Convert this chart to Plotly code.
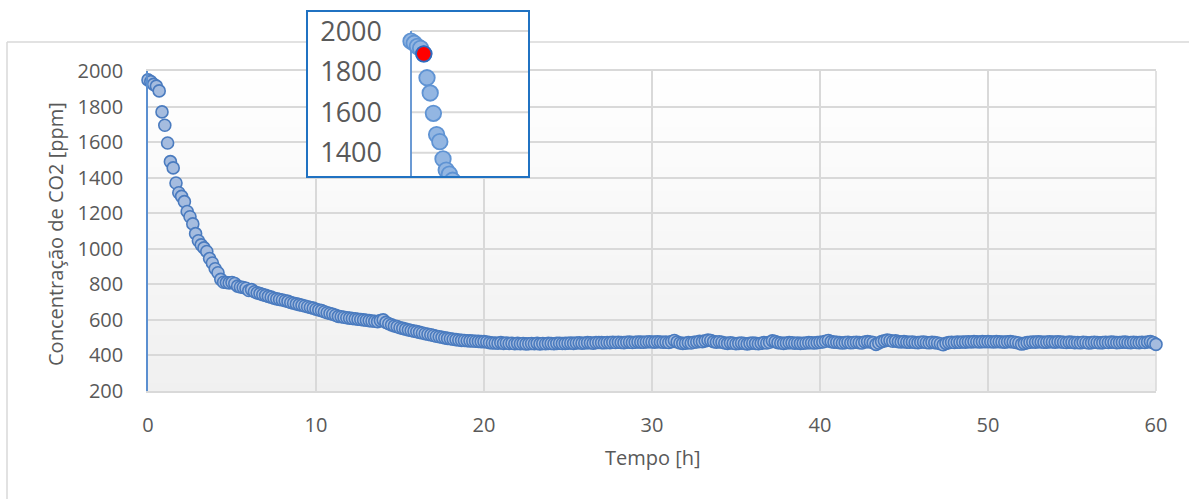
import plotly.graph_objects as go

# ---------------- data ----------------
step_h = 1 / 6  # one sample every 10 minutes
co2 = [
    1950, 1940, 1925, 1915, 1888, 1770,
    1695, 1595, 1490, 1455, 1370, 1315,
    1295, 1265, 1210, 1180, 1140, 1085,
    1045, 1022, 1005, 985, 945, 920,
    888, 865, 828, 812, 810, 808,
    810, 805, 790, 785, 782, 778,
    765, 770, 758, 752, 748, 742,
    738, 732, 728, 722, 718, 715,
    712, 708, 704, 698, 694, 690,
    686, 682, 678, 674, 670, 666,
    660, 656, 652, 646, 640, 636,
    632, 626, 620, 618, 615, 612,
    610, 608, 606, 604, 602, 600,
    598, 596, 594, 592, 590, 596,
    600, 586, 578, 572, 566, 562,
    556, 552, 548, 544, 540, 537,
    534, 530, 526, 522, 519, 516,
    512, 508, 505, 502, 499, 496,
    494, 491, 489, 487, 485, 484,
    483, 482, 481, 480, 479, 478,
    478, 476, 472, 470, 470, 469,
    472, 468, 470, 467, 469, 466,
    468, 466, 467, 465, 466, 467,
    466, 468, 465, 467, 466, 468,
    467, 466, 468, 469, 467, 468,
    469, 470, 468, 470, 471, 469,
    470, 472, 471, 469, 472, 473,
    472, 471, 473, 472, 474, 473,
    474, 473, 472, 474, 475, 473,
    474, 476, 475, 474, 476, 477,
    476, 475, 477, 476, 474, 475,
    473, 478, 484, 476, 470, 468,
    469, 472, 470, 474, 476, 479,
    478, 482, 486, 484, 478, 475,
    477, 474, 470, 468, 471, 469,
    466, 468, 470, 467, 465, 468,
    470, 468, 466, 469, 472, 470,
    474, 482, 478, 472, 470, 468,
    470, 472, 471, 469, 470, 468,
    469, 470, 472, 471, 470, 472,
    474, 476, 480, 484, 478, 475,
    474, 472, 470, 472, 474, 471,
    473, 474, 472, 470, 476, 478,
    476, 472, 462, 470, 478, 482,
    486, 484, 480, 482, 478, 476,
    478, 475, 474, 476, 473, 472,
    474, 476, 473, 471, 474, 472,
    470, 466, 460, 468, 472, 474,
    473, 475, 474, 476, 475, 477,
    476, 478, 477, 476, 478, 477,
    478, 477, 476, 478, 477, 476,
    475, 477, 478, 476, 473, 470,
    464, 468, 472, 474, 476, 475,
    477, 476, 474, 475, 477, 476,
    475, 477, 476, 474, 473, 475,
    474, 472, 473, 471, 474, 473,
    470, 472, 474, 473, 471, 472,
    474, 473, 475, 474, 472, 473,
    474, 475, 473, 472, 474, 473,
    472, 474, 473, 476, 478, 472,
    462,
]
tempo = [i * step_h for i in range(len(co2))]
highlight_index = 4  # red point shown in the zoomed inset

x_ticks = [0, 10, 20, 30, 40, 50, 60]
y_ticks = [200, 400, 600, 800, 1000, 1200, 1400, 1600, 1800, 2000]
inset_y_ticks = [1400, 1600, 1800, 2000]
x_title = "Tempo [h]"
y_title = "Concentração de CO2 [ppm]"

# ---------------- layout geometry (pixels) ----------------
W, H = 1189, 499
FONT = "Open Sans"
TXT = "#595959"
GRID = "#d9d9d9"
AXBLUE = "#5b8fd0"
BOXBLUE = "#2072c2"

def fx(px):
    return px / W

def fy(py):
    return (H - py) / H

main_l, main_r, main_t, main_b = 148, 1156, 71, 391
box_l, box_r, box_t, box_b = 308, 528, 12, 176
ins_l, ins_zero, ins_r, ins_t, ins_b = 395, 411, 528, 13, 176
ins_pxh = 19.2
ins_xrange = [-(ins_zero - ins_l) / ins_pxh, (ins_r - ins_zero) / ins_pxh]
ins_yrange = [1286, 2089]

fig = go.Figure()

# main series
fig.add_trace(go.Scatter(
    x=tempo, y=co2, mode="markers", xaxis="x", yaxis="y", cliponaxis=False,
    marker=dict(size=12, color="#a5bcdf", line=dict(color="#4a7bbf", width=1.6)),
    hoverinfo="skip",
))
# inset box (empty subplot that provides white background + border)
fig.add_trace(go.Scatter(x=[None], y=[None], xaxis="x2", yaxis="y2", hoverinfo="skip"))
# inset zoomed series
fig.add_trace(go.Scatter(
    x=tempo, y=co2, mode="markers", xaxis="x3", yaxis="y3", cliponaxis=True,
    marker=dict(size=15.5, color="#93b6e2", line=dict(color="#5f93d3", width=1.8)),
    hoverinfo="skip",
))
fig.add_trace(go.Scatter(
    x=[tempo[highlight_index]], y=[co2[highlight_index]], mode="markers",
    xaxis="x3", yaxis="y3", cliponaxis=True,
    marker=dict(size=15.5, color="#ff0000", line=dict(color="#2e6bc0", width=1.8)),
    hoverinfo="skip",
))

shapes = []
# outer chart frame: top and left edges (the rest lies outside the picture)
shapes.append(dict(type="line", xref="paper", yref="paper",
                   x0=fx(7), x1=1, y0=fy(42), y1=fy(42),
                   line=dict(color=GRID, width=1.5), layer="below"))
shapes.append(dict(type="line", xref="paper", yref="paper",
                   x0=fx(7), x1=fx(7), y0=0, y1=fy(42),
                   line=dict(color=GRID, width=1.5), layer="below"))
# plot-area vertical gradient (white -> light grey)
nb = 40
for k in range(nb):
    f = (k + 0.5) / nb
    c = int(round(240 + (255 - 240) * f))
    shapes.append(dict(type="rect", xref="paper", yref="paper",
                       x0=fx(main_l), x1=fx(main_r),
                       y0=fy(main_b) + (fy(main_t) - fy(main_b)) * k / nb,
                       y1=fy(main_b) + (fy(main_t) - fy(main_b)) * (k + 1) / nb,
                       line=dict(width=0), fillcolor=f"rgb({c},{c},{c})", layer="below"))
# right edge of plot area
shapes.append(dict(type="line", xref="paper", yref="paper",
                   x0=fx(main_r), x1=fx(main_r), y0=fy(main_b), y1=fy(main_t),
                   line=dict(color=GRID, width=1.5), layer="below"))
# inset gridlines and axis line
for v in inset_y_ticks:
    shapes.append(dict(type="line", xref="x3", yref="y3", x0=0, x1=ins_xrange[1],
                       y0=v, y1=v, line=dict(color=GRID, width=2), layer="below"))
shapes.append(dict(type="line", xref="x3", yref="y3", x0=0, x1=0,
                   y0=ins_yrange[0], y1=inset_y_ticks[-1],
                   line=dict(color=AXBLUE, width=1.8), layer="below"))

annotations = [
    dict(text=x_title, xref="paper", yref="paper", x=fx(653), y=fy(457),
         showarrow=False, xanchor="center", yanchor="middle",
         font=dict(family=FONT, size=20, color=TXT)),
    dict(text=y_title, xref="paper", yref="paper", x=fx(55), y=fy(234),
         showarrow=False, xanchor="center", yanchor="middle", textangle=-90,
         font=dict(family=FONT, size=20, color=TXT)),
]

fig.update_layout(
    template="none",
    width=W, height=H, autosize=False,
    margin=dict(l=0, r=0, t=0, b=0, pad=0),
    paper_bgcolor="white", plot_bgcolor="white",
    showlegend=False, hovermode=False,
    font=dict(family=FONT, color=TXT),
    shapes=shapes, annotations=annotations,
    xaxis=dict(domain=[fx(main_l), fx(main_r)], range=[0, 60], tickvals=x_ticks,
               automargin=False,
               showgrid=True, gridcolor=GRID, gridwidth=1.5, zeroline=False,
               showline=True, linecolor=GRID, linewidth=1.5, mirror=True,
               ticks="", ticklabelstandoff=15,
               tickfont=dict(family=FONT, size=20, color=TXT), fixedrange=True),
    yaxis=dict(domain=[fy(main_b), fy(main_t)], range=[200, 2000], tickvals=y_ticks,
               automargin=False,
               showgrid=True, gridcolor=GRID, gridwidth=1.5, zeroline=False,
               showline=True, linecolor=AXBLUE, linewidth=1.5,
               ticks="", ticklabelstandoff=19,
               tickfont=dict(family=FONT, size=20, color=TXT), fixedrange=True),
    xaxis2=dict(domain=[fx(box_l), fx(box_r)], range=[0, 1], anchor="y2", automargin=False,
                showgrid=False, zeroline=False, showticklabels=False, ticks="",
                showline=True, mirror=True, linecolor=BOXBLUE, linewidth=2, fixedrange=True),
    yaxis2=dict(domain=[fy(box_b), fy(box_t)], range=[0, 1], anchor="x2", automargin=False,
                showgrid=False, zeroline=False, showticklabels=False, ticks="",
                showline=True, mirror=True, linecolor=BOXBLUE, linewidth=2, fixedrange=True),
    xaxis3=dict(domain=[fx(ins_l), fx(ins_r)], range=ins_xrange, anchor="y3",
                automargin=False, visible=False, fixedrange=True),
    yaxis3=dict(domain=[fy(ins_b), fy(ins_t)], range=ins_yrange, anchor="x3",
                automargin=False,
                tickvals=inset_y_ticks, showgrid=False, zeroline=False, showline=False,
                ticks="", ticklabelstandoff=12,
                tickfont=dict(family=FONT, size=27, color=TXT), fixedrange=True),
)

fig.write_html("out.html", config={"displayModeBar": False})
